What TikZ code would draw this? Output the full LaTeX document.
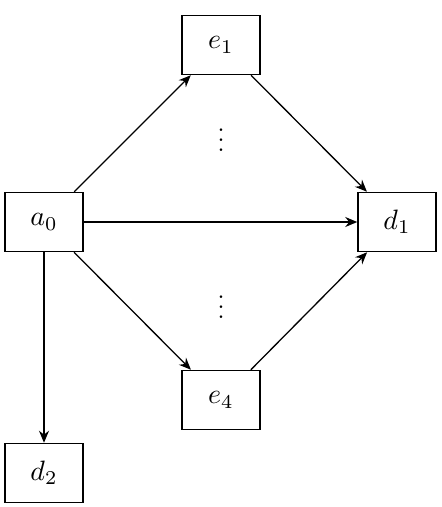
\documentclass[tikz,border=0pt]{standalone}
\usepackage{graphicx}
\usetikzlibrary{arrows.meta}
\newcommand{\bigtxt}[1]{\scalebox{2.8}{#1}}
\begin{document}
\begin{tikzpicture}[x=1pt,y=1pt,
  box/.style={draw, line width=1.5pt, minimum width=78pt, minimum height=59pt, inner sep=0pt},
  conn/.style={line width=1.3pt, -{Stealth[length=12pt,width=10pt]}},
  dotsnode/.style={inner sep=0pt}]
\useasboundingbox (0,0) rectangle (442,-507);
\node[box] (a0) at (44,-222) {\bigtxt{$a_0$}};
\node[box] (e1) at (221,-45) {\bigtxt{$e_1$}};
\node[box] (d1) at (397,-222) {\bigtxt{$d_1$}};
\node[box] (e4) at (221,-400) {\bigtxt{$e_4$}};
\node[box] (d2) at (44,-473) {\bigtxt{$d_2$}};
\node[dotsnode] (v1) at (221,-133) {\scalebox{2.5}{$\vdots$}};
\node[dotsnode] (v2) at (221,-300) {\scalebox{2.5}{$\vdots$}};
\draw[conn] (a0) -- (e1);
\draw[conn] (a0) -- (d1);
\draw[conn] (a0) -- (e4);
\draw[conn] (a0) -- (d2);
\draw[conn] (e1) -- (d1);
\draw[conn] (e4) -- (d1);
\end{tikzpicture}
\end{document}
